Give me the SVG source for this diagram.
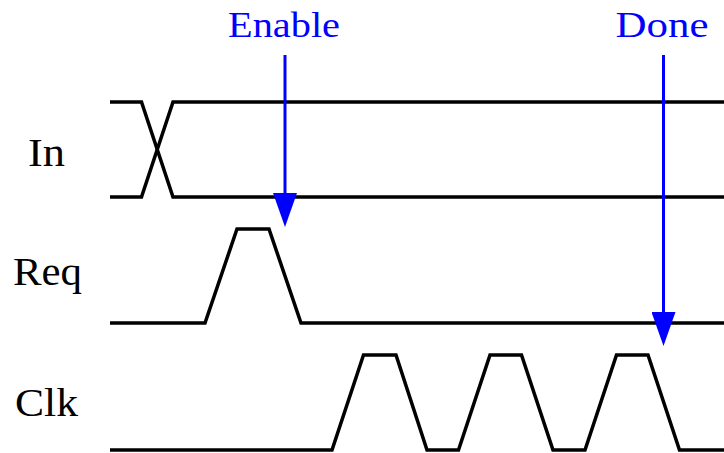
<svg xmlns="http://www.w3.org/2000/svg" width="724" height="453" viewBox="0 0 724 453">
<style>
.sig{fill:none;stroke:#000;stroke-width:3.5;stroke-linejoin:miter}
.lbl{font-family:"Liberation Serif","DejaVu Serif",serif;font-size:40px;fill:#000}
.ev{font-family:"Liberation Serif","DejaVu Serif",serif;font-size:36px;fill:#0000ff;text-anchor:middle}
.arr{stroke:#0000ff;stroke-width:3;fill:none}
</style>
<defs>
<marker id="ah" markerUnits="userSpaceOnUse" markerWidth="34" markerHeight="24" refX="1" refY="12" orient="auto" viewBox="0 0 34 24">
<path d="M0,0 L34,12 L0,24 Z" fill="#0000ff"/>
</marker>
</defs>
<rect width="724" height="453" fill="#fff"/>
<g id="In">
<text class="lbl" x="28" y="166" textLength="37" lengthAdjust="spacingAndGlyphs">In</text>
<path class="sig" d="M110,102 L141.5,102 L173,197 L724,197"/>
<path class="sig" d="M110,197 L141.5,197 L173,102 L724,102"/>
</g>
<g id="Req">
<text class="lbl" x="13" y="285" textLength="69" lengthAdjust="spacingAndGlyphs">Req</text>
<path class="sig" d="M110,323 L205,323 L237,229 L269,229 L301,323 L724,323"/>
</g>
<g id="Clk">
<text class="lbl" x="15" y="416" textLength="63" lengthAdjust="spacingAndGlyphs">Clk</text>
<path class="sig" d="M110,450 L332,450 L363.5,355 L396,355 L427,450 L458.5,450 L490,355 L521.5,355 L553,450 L585,450 L616.5,355 L648,355 L679.5,450 L724,450"/>
</g>
<g id="Enable">
<text class="ev" x="284" y="37" textLength="112" lengthAdjust="spacingAndGlyphs">Enable</text>
</g>
<g id="Done">
<text class="ev" x="662" y="37" textLength="93" lengthAdjust="spacingAndGlyphs">Done</text>
</g>
<g id="connectors">
<line class="arr" x1="285" y1="55" x2="285" y2="194" marker-end="url(#ah)"/>
<line class="arr" x1="663.5" y1="55" x2="663.5" y2="313" marker-end="url(#ah)"/>
</g>
</svg>
